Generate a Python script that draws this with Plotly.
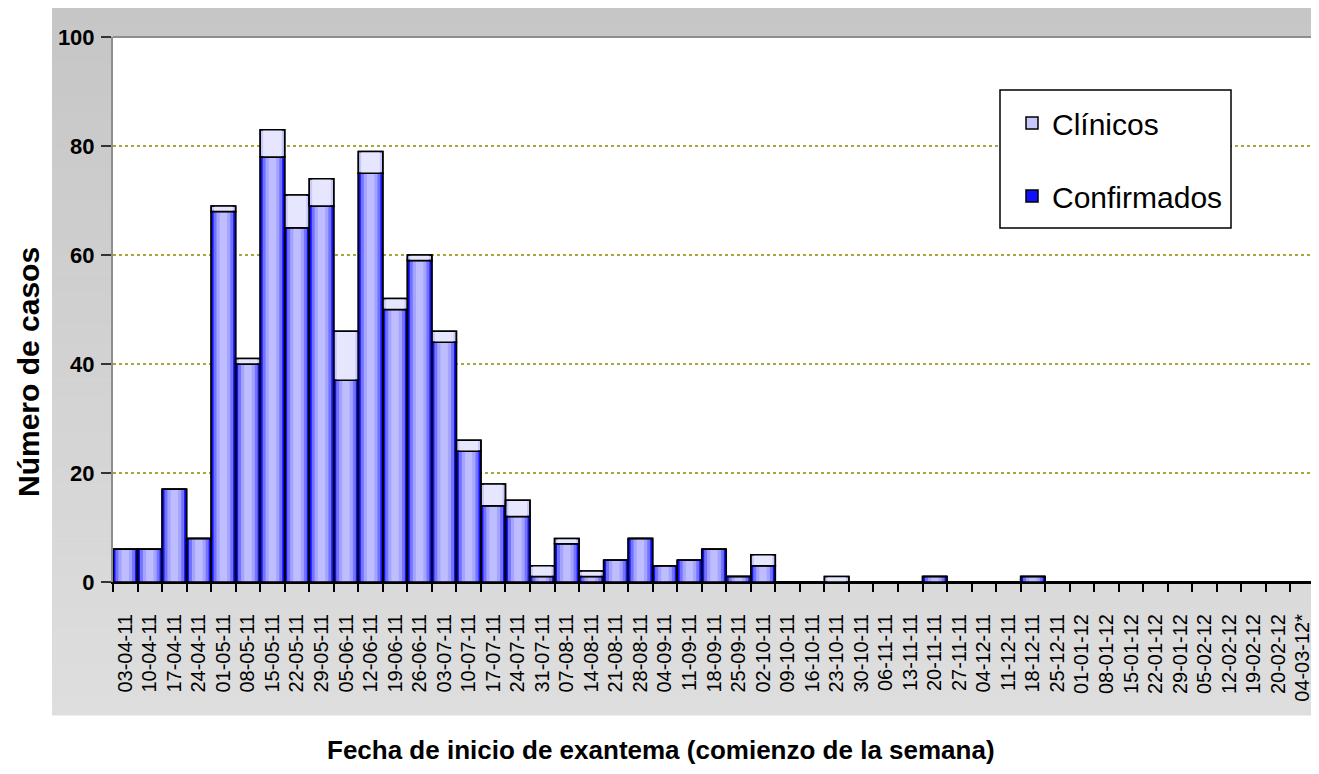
import plotly.graph_objects as go

categories = ["03-04-11", "10-04-11", "17-04-11", "24-04-11", "01-05-11", "08-05-11",
              "15-05-11", "22-05-11", "29-05-11", "05-06-11", "12-06-11", "19-06-11",
              "26-06-11", "03-07-11", "10-07-11", "17-07-11", "24-07-11", "31-07-11",
              "07-08-11", "14-08-11", "21-08-11", "28-08-11", "04-09-11", "11-09-11",
              "18-09-11", "25-09-11", "02-10-11", "09-10-11", "16-10-11", "23-10-11",
              "30-10-11", "06-11-11", "13-11-11", "20-11-11", "27-11-11", "04-12-11",
              "11-12-11", "18-12-11", "25-12-11", "01-01-12", "08-01-12", "15-01-12",
              "22-01-12", "29-01-12", "05-02-12", "12-02-12", "19-02-12", "20-02-12",
              "04-03-12*"]

confirmados = [6, 6, 17, 8, 68, 40, 78, 65, 69, 37, 75, 50, 59, 44, 24, 14, 12, 1,
               7, 1, 4, 8, 3, 4, 6, 1, 3, 0, 0, 0, 0, 0, 0, 1, 0, 0, 0, 1, 0,
               0, 0, 0, 0, 0, 0, 0, 0, 0, 0]

clinicos = [0, 0, 0, 0, 1, 1, 5, 6, 5, 9, 4, 2, 1, 2, 2, 4, 3, 2,
            1, 1, 0, 0, 0, 0, 0, 0, 2, 0, 0, 1, 0, 0, 0, 0, 0, 0, 0, 0, 0,
            0, 0, 0, 0, 0, 0, 0, 0, 0, 0]

y_ticks = [0, 20, 40, 60, 80, 100]

# page body has an 8px margin; work in screen pixels and convert
OFF = 8
W, H = 1311, 766
L, R, T, B = 105, 4, 29, 192
PW, PH = W - L - R, H - T - B


def px_x(p):
    return (p - OFF - L) / PW


def px_y(p):
    return (H - B - (p - OFF)) / PH


FONT = "Liberation Sans, Arial, sans-serif"
OUT = dict(color="black", width=1.5)

fig = go.Figure()

# Confirmados (layered to mimic the shaded gradient)
conf_layers = [(1.0, "#1010ff", OUT), (0.8, "#7272ff", None), (0.56, "#a4a4ff", None),
               (0.3, "#bdbdff", None)]
for i, (w, col, ln) in enumerate(conf_layers):
    fig.add_trace(go.Bar(x=categories, y=confirmados, width=w, name="Confirmados",
                         showlegend=(i == 0),
                         marker=dict(color=col, line=ln if ln else dict(width=0)),
                         legendgroup="conf", legendrank=2, hoverinfo="skip" if i else None))
fig.add_trace(go.Bar(x=categories, y=confirmados, width=1, showlegend=False,
                     marker=dict(color="rgba(0,0,0,0)", line=OUT),
                     legendgroup="conf", legendrank=2, hoverinfo="skip"))

# Clínicos stacked on top
fig.add_trace(go.Bar(x=categories, y=clinicos, base=confirmados, width=1, name="Clínicos",
                     marker=dict(color="#c8c8ff", line=OUT),
                     legendgroup="clin", legendrank=1))
fig.add_trace(go.Bar(x=categories, y=clinicos, base=confirmados, width=0.76, showlegend=False,
                     marker=dict(color="#e6e6ff", line=dict(width=0)),
                     legendgroup="clin", legendrank=1, hoverinfo="skip"))
fig.add_trace(go.Bar(x=categories, y=clinicos, base=confirmados, width=1, showlegend=False,
                     marker=dict(color="rgba(0,0,0,0)", line=OUT),
                     legendgroup="clin", legendrank=1, hoverinfo="skip"))

shapes = []
# gray frame with a vertical gradient
gx0, gx1, gy0, gy1 = 52, 1330, 8, 715
n = 40
c_top, c_bot = 198, 222
for i in range(n):
    ya = gy0 + (gy1 - gy0) * i / n
    yb = gy0 + (gy1 - gy0) * (i + 1) / n + 0.6
    c = round(c_top + (c_bot - c_top) * i / (n - 1))
    shapes.append(dict(type="rect", xref="paper", yref="paper", layer="below",
                       x0=px_x(gx0), x1=px_x(gx1), y0=px_y(yb), y1=px_y(ya),
                       fillcolor=f"rgb({c},{c},{c})", line=dict(width=0)))
# white plot area
shapes.append(dict(type="rect", xref="paper", yref="paper", layer="below",
                   x0=0, x1=1, y0=0, y1=1, fillcolor="white", line=dict(width=0)))
# top and right plot border
shapes.append(dict(type="line", xref="paper", yref="paper", x0=0, x1=1, y0=1, y1=1,
                   line=dict(color="#8e8e8e", width=2), layer="above"))
shapes.append(dict(type="line", xref="paper", yref="paper", x0=1, x1=1, y0=0, y1=1,
                   line=dict(color="#8e8e8e", width=2), layer="above"))
# legend box
shapes.append(dict(type="rect", xref="paper", yref="paper", layer="above",
                   x0=px_x(1000), x1=px_x(1231), y0=px_y(228), y1=px_y(90),
                   fillcolor="white", line=dict(color="black", width=1.5)))

annotations = [
    dict(text="<b>Número de casos</b>", xref="paper", yref="paper",
         x=px_x(28), y=px_y(372), textangle=-90, showarrow=False,
         xanchor="center", yanchor="middle",
         font=dict(family=FONT, size=30, color="black")),
    dict(text="<b>Fecha de inicio de exantema (comienzo de la semana)</b>",
         xref="paper", yref="paper", x=px_x(661), y=px_y(750), showarrow=False,
         xanchor="center", yanchor="middle",
         font=dict(family=FONT, size=26, color="black")),
]

fig.update_layout(
    width=W, height=H,
    margin=dict(l=L, r=R, t=T, b=B),
    paper_bgcolor="white", plot_bgcolor="white",
    barmode="overlay",
    shapes=shapes, annotations=annotations,
    showlegend=True,
    legend=dict(x=px_x(1012), y=px_y(97), xanchor="left", yanchor="top",
                bgcolor="rgba(0,0,0,0)", borderwidth=0,
                traceorder="grouped", tracegroupgap=31,
                font=dict(family=FONT, size=30, color="black")),
    xaxis=dict(type="category", categoryorder="array", categoryarray=categories,
               range=[-0.5, len(categories) - 0.5],
               tickangle=-90, tickson="boundaries", ticks="outside", ticklen=8,
               tickwidth=1.5, tickcolor="black",
               showline=True, linecolor="black", linewidth=2,
               showgrid=False, ticklabelstandoff=22,
               tickfont=dict(family=FONT, size=20, color="black")),
    yaxis=dict(range=[0, 100], tickvals=y_ticks, ticks="outside", ticklen=10,
               tickwidth=1.5, tickcolor="#333333",
               showline=True, linecolor="#8e8e8e", linewidth=2,
               showgrid=True, gridcolor="#a6a63c", griddash="dot", gridwidth=1.5,
               zeroline=False, ticklabelstandoff=2,
               tickfont=dict(family=FONT, size=22, color="black", weight="bold")),
)

fig.write_html("out.html")
